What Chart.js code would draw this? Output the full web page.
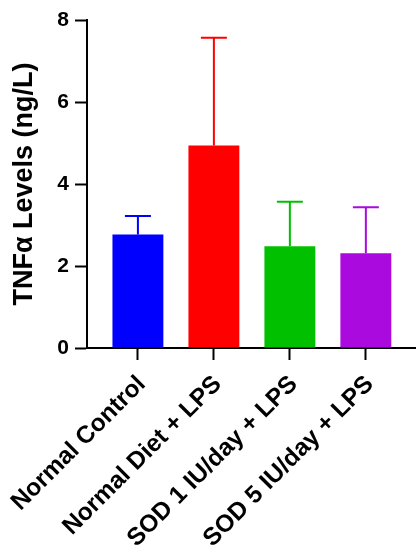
<!DOCTYPE html>
<html>
<head>
<meta charset="utf-8">
<script src="https://cdn.jsdelivr.net/npm/chart.js@4"></script>
<style>
  html, body { margin: 0; padding: 0; background: #fff; }
  #wrap { width: 416px; height: 552px; }
</style>
</head>
<body>
<div id="wrap"><canvas id="tnfChart" width="416" height="552"></canvas></div>
<script>
// valores (média e barra de erro superior)
const groups = ['Normal Control', 'Normal Diet + LPS', 'SOD 1 IU/day + LPS', 'SOD 5 IU/day + LPS'];
const means = [2.77, 4.94, 2.48, 2.31];
const errUp = [0.45, 2.63, 1.09, 1.12];
const barColors = ['#0000ff', '#ff0000', '#00c000', '#aa0ade'];
const yTicks = [0, 2, 4, 6, 8];

const FONT = '"Liberation Sans", Arial, sans-serif';

// desenha a barra de erro (só para cima) usando as escalas do Chart.js
const errorBarsPlugin = {
  id: 'errorBars',
  afterDatasetsDraw(chart) {
    const { ctx, scales } = chart;
    const meta = chart.getDatasetMeta(0);
    ctx.save();
    ctx.lineWidth = 2;
    meta.data.forEach((bar, i) => {
      const x = bar.x;
      const yTop = scales.y.getPixelForValue(means[i]);
      const yErr = scales.y.getPixelForValue(means[i] + errUp[i]);
      const half = 13;
      ctx.strokeStyle = barColors[i];
      ctx.beginPath();
      ctx.moveTo(x, yTop);
      ctx.lineTo(x, yErr);
      ctx.moveTo(x - half, yErr);
      ctx.lineTo(x + half, yErr);
      ctx.stroke();
    });
    ctx.restore();
  },
};

const ctx = document.getElementById('tnfChart').getContext('2d');
new Chart(ctx, {
  type: 'bar',
  data: {
    datasets: [
      {
        data: means.map((v, i) => ({ x: i, y: v })),
        backgroundColor: barColors,
        borderWidth: 0,
        barPercentage: 0.67,
        categoryPercentage: 1,
      },
    ],
  },
  options: {
    responsive: false,
    animation: false,
    layout: { padding: { left: 11, top: 20, right: 0, bottom: 0 } },
    plugins: { legend: { display: false }, tooltip: { enabled: false } },
    scales: {
      x: {
        type: 'linear',
        offset: false,
        min: -0.67,
        max: 3.66,
        afterBuildTicks: (scale) => {
          scale.ticks = groups.map((g, i) => ({ value: i }));
        },
        afterFit: (scale) => {
          scale.height = 204;
          // os rótulos inclinados não devem empurrar a área do gráfico
          scale.paddingLeft = 0;
          scale.paddingRight = 0;
        },
        ticks: {
          autoSkip: false,
          minRotation: 45,
          maxRotation: 45,
          padding: 10,
          labelOffset: 4,
          color: '#000',
          font: { family: FONT, size: 24.5, weight: 'bold' },
          callback: (value, index) => groups[index],
        },
        grid: {
          offset: false,
          drawOnChartArea: false,
          drawTicks: true,
          tickLength: 12,
          tickWidth: 2,
          tickColor: '#000',
        },
        border: { color: '#000', width: 2 },
      },
      y: {
        min: 0,
        max: 8,
        afterBuildTicks: (scale) => {
          scale.ticks = yTicks.map((v) => ({ value: v }));
        },
        afterFit: (scale) => {
          scale.width = 76;
          scale.paddingTop = 0;
          scale.paddingBottom = 0;
        },
        ticks: {
          padding: 6,
          color: '#000',
          font: { family: FONT, size: 21, weight: 'bold' },
        },
        grid: {
          drawOnChartArea: false,
          tickLength: 12,
          tickWidth: 2,
          tickColor: '#000',
        },
        border: { color: '#000', width: 2 },
        title: {
          display: true,
          text: 'TNFα Levels (ng/L)',
          color: '#000',
          padding: { top: 0, bottom: 0 },
          font: { family: FONT, size: 27, weight: 'bold', lineHeight: 1 },
        },
      },
    },
  },
  plugins: [errorBarsPlugin],
});
</script>
</body>
</html>
